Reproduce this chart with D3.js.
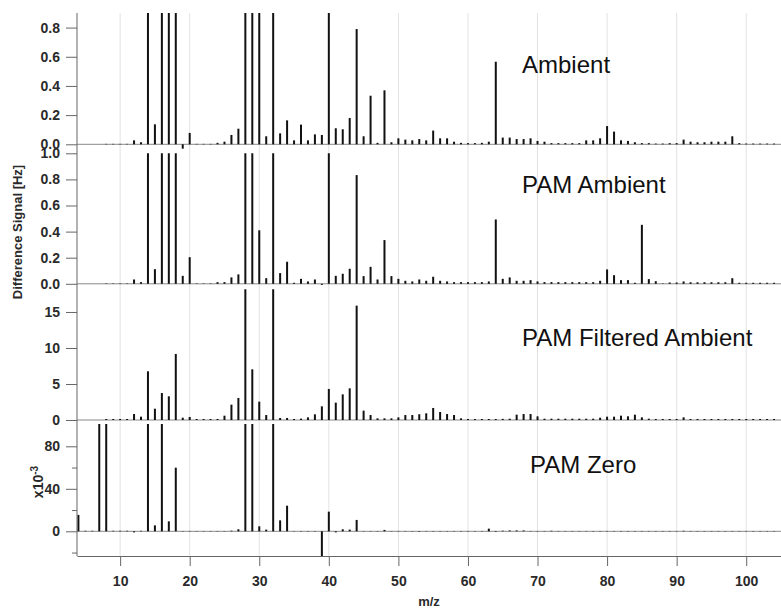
<!DOCTYPE html>
<html>
<head>
<meta charset="utf-8">
<script src="https://cdn.jsdelivr.net/npm/d3@7"></script>
<style>
  html, body { margin: 0; padding: 0; background: #fff; }
  svg { display: block; }
  text { font-family: "Liberation Sans", Arial, sans-serif; }
</style>
</head>
<body>
<svg id="chart" width="781" height="610"></svg>
<script>
// m/z of the first entry in every series; one entry per integer mass
const firstMass = 4;
const lastMass = 104;

// Difference signal [Hz], m/z 4..104 (null = no data)
const ambient = [
  null, null, null, null,
  0.003, 0.003, 0.003, 0.003, 0.027, 0.014,
  2.1, 0.137, 3.4, 1.2, 4.6, -0.03, 0.078,
  0.003, 0.003, 0.003, 0.010, 0.018, 0.064, 0.107,
  24, 1.6, 1.0, 0.055, 5.8, 0.075, 0.164,
  0.027, 0.135, 0.027, 0.068, 0.064, 1.3, 0.110,
  0.103, 0.180, 0.790, 0.055, 0.333, 0.010, 0.370,
  0.014, 0.041, 0.032, 0.027, 0.036, 0.027, 0.094,
  0.041, 0.041, 0.018, 0.010, 0.008, 0.008, 0.010,
  0.018, 0.566, 0.046, 0.046, 0.036, 0.036, 0.041,
  0.023, 0.018, 0.008, 0.008, 0.008, 0.008, 0.008,
  0.027, 0.027, 0.041, 0.125, 0.087, 0.027, 0.023,
  0.014, 0.008, 0.008, 0.005, 0.005, 0.008, 0.008,
  0.032, 0.018, 0.014, 0.014, 0.018, 0.018, 0.018,
  0.055, 0.008, 0.005, 0.005, 0.005, 0.005, 0.005
];

const pamAmbient = [
  null, null, null, null,
  0.003, 0.003, 0.003, 0.003, 0.033, 0.013,
  1.9, 0.112, 3.1, 1.1, 4.2, 0.061, 0.204,
  0.003, 0.003, 0.003, 0.013, 0.013, 0.049, 0.072,
  20, 1.4, 0.41, 0.043, 5.1, 0.082, 0.169,
  0.008, 0.038, 0.018, 0.033, -0.008, 1.2, 0.061,
  0.077, 0.115, 0.833, 0.059, 0.130, 0.033, 0.335,
  0.059, 0.038, 0.023, 0.018, 0.033, 0.023, 0.054,
  0.023, 0.018, 0.013, 0.013, 0.013, 0.013, 0.013,
  0.018, 0.493, 0.038, 0.049, 0.023, 0.023, 0.028,
  0.018, 0.013, 0.013, 0.013, 0.013, 0.013, 0.013,
  0.013, 0.013, 0.023, 0.110, 0.066, 0.028, 0.028,
  0.008, 0.452, 0.036, 0.020, 0.003, 0.010, 0.010,
  0.018, 0.012, 0.012, 0.012, 0.012, 0.012, 0.012,
  0.043, 0.008, 0.008, 0.008, 0.008, 0.008, 0.008
];

const pamFiltered = [
  null, null, null, null,
  0.14, 0.14, 0.14, 0.14, 0.83, 0.46,
  6.76, 1.57, 3.75, 3.29, 9.17, 0.32, 0.42,
  0.14, 0.14, 0.14, 0.14, 0.60, 2.13, 3.06,
  24.5, 7.04, 2.55, 0.69, 21.0, 0.28, 0.28,
  0.14, 0.19, 0.37, 0.79, 1.90, 4.31, 2.41,
  3.56, 4.40, 15.88, 1.30, 0.69, 0.23, 0.23,
  0.23, 0.37, 0.69, 0.69, 0.80, 0.93, 1.67,
  1.11, 0.83, 0.69, 0.23, 0.14, 0.14, 0.14,
  0.14, 0.14, 0.16, 0.18, 0.74, 0.83, 0.83,
  0.51, 0.18, 0.18, 0.18, 0.18, 0.18, 0.18,
  0.18, 0.18, 0.32, 0.46, 0.46, 0.60, 0.51,
  0.74, 0.37, 0.18, 0.14, 0.14, 0.14, 0.14,
  0.37, 0.14, 0.14, 0.14, 0.14, 0.14, 0.14,
  0.14, 0.14, 0.14, 0.14, 0.14, 0.14, 0.14
];

const pamZero = [
  0.0154, 0.0005, 0.0005, 0.13,
  0.125, 0.0005, 0.0005, 0.0005, -0.001, 0.0005,
  0.16, 0.0056, 0.21, 0.0094, 0.0599, 0.0003, 0.0003,
  0.0003, 0.0003, 0.0003, 0.0003, 0.0003, 0.0006, 0.0019,
  0.30, 0.14, 0.0047, 0.0016, 0.18, 0.0103, 0.0241,
  0.0003, 0.0003, 0.0003, 0.0003, -0.024, 0.0185, -0.001,
  0.0019, 0.0016, 0.0107, 0.0003, 0.0003, 0.0003, 0.0013,
  0.0003, 0.0003, 0.0003, -0.0003, -0.0005, 0.0003, 0.0003,
  -0.0003, -0.0003, 0.0003, 0.0003, 0.0003, 0.0003, 0.0003,
  0.0025, -0.0006, 0.0006, 0.0008, 0.0008, 0.0008, 0.0003,
  -0.0003, 0.0003, 0.0005, 0.0003, 0.0003, 0.0003, 0.0003,
  0.0003, -0.0003, 0.0003, 0.0003, 0.0003, 0.0003, 0.0003,
  0.0003, 0.0003, 0.0003, 0.0003, 0.0003, 0.0003, -0.0003,
  0.0005, 0.0003, -0.0003, 0.0003, 0.0003, 0.0003, -0.0003,
  0.0003, 0.0003, 0.0003, 0.0003, 0.0003, 0.0003, 0.0003
];

const panelTitles = ["Ambient", "PAM Ambient", "PAM Filtered Ambient", "PAM Zero"];
const xTicks = [10, 20, 30, 40, 50, 60, 70, 80, 90, 100];
const xDomain = [3.8, 105];

// ---- layout ----
const svg = d3.select("#chart");
const plotLeft = 77, plotRight = 781;
const axisBottomY = 556;

const x = d3.scaleLinear().domain(xDomain).range([plotLeft, plotRight]);

// each stacked panel: pixel top/bottom, pixel row of zero, top value
const panels = [
  { data: ambient,     top: 13,    bottom: 150, zero: 144.3, hi: 0.9,
    ticks: [0, 0.2, 0.4, 0.6, 0.8], minor: [], fmt: d3.format(".1f"),
    title: { x: 522, y: 73 } },
  { data: pamAmbient,  top: 153.3, bottom: 288, zero: 283.8, hi: 1.0,
    ticks: [0, 0.2, 0.4, 0.6, 0.8, 1.0], minor: [], fmt: d3.format(".1f"),
    title: { x: 522, y: 193 } },
  { data: pamFiltered, top: 289.3, bottom: 424, zero: 420,   hi: 18.15,
    ticks: [0, 5, 10, 15], minor: [], fmt: d3.format("d"),
    title: { x: 522, y: 346 } },
  { data: pamZero,     top: 424,   bottom: 556, zero: 531.3, hi: 0.101,
    ticks: [0, 0.04, 0.08], minor: [-0.02, 0.02, 0.06], fmt: d => d3.format("d")(Math.round(d * 1000)),
    title: { x: 530, y: 473 } }
];

// vertical grid lines
svg.append("g")
  .selectAll("line")
  .data(xTicks)
  .join("line")
  .attr("x1", d => x(d)).attr("x2", d => x(d))
  .attr("y1", 13).attr("y2", axisBottomY)
  .attr("stroke", "#e2e2e2")
  .attr("stroke-width", 1);

const defs = svg.append("defs");

panels.forEach((p, i) => {
  const y = d3.scaleLinear().domain([0, p.hi]).range([p.zero, p.top]);

  const clipId = "clip" + i;
  defs.append("clipPath").attr("id", clipId)
    .append("rect")
    .attr("x", plotLeft).attr("y", p.top)
    .attr("width", plotRight - plotLeft).attr("height", p.bottom - p.top);

  const g = svg.append("g").attr("clip-path", `url(#${clipId})`);

  // zero line
  g.append("line")
    .attr("x1", plotLeft).attr("x2", plotRight)
    .attr("y1", y(0)).attr("y2", y(0))
    .attr("stroke", "#8a8a8a").attr("stroke-width", 1);

  const pts = p.data
    .map((v, k) => ({ m: firstMass + k, v }))
    .filter(d => d.v !== null && d.m <= lastMass);

  g.selectAll("rect.bar")
    .data(pts)
    .join("rect")
    .attr("class", "bar")
    .attr("x", d => x(d.m) - 1)
    .attr("width", 2)
    .attr("y", d => Math.min(y(0), y(d.v)))
    .attr("height", d => Math.abs(y(d.v) - y(0)))
    .attr("fill", "#111");

  // left axis (major)
  const ax = svg.append("g")
    .attr("transform", `translate(${plotLeft},0)`)
    .call(d3.axisLeft(y).tickValues(p.ticks).tickSize(11).tickPadding(6).tickFormat(p.fmt));
  ax.select(".domain").remove();
  ax.selectAll(".tick line").attr("stroke", "#666");
  ax.selectAll(".tick text")
    .attr("fill", "#2a2a2a")
    .style("font-size", "14px")
    .style("font-weight", "bold");

  // minor ticks
  if (p.minor.length) {
    const mx = svg.append("g")
      .attr("transform", `translate(${plotLeft},0)`)
      .call(d3.axisLeft(y).tickValues(p.minor).tickSize(5).tickFormat(""));
    mx.select(".domain").remove();
    mx.selectAll(".tick line").attr("stroke", "#666");
  }

  // panel title
  svg.append("text")
    .attr("x", p.title.x).attr("y", p.title.y)
    .attr("fill", "#111")
    .style("font-size", "24px")
    .text(panelTitles[i]);
});

// continuous left spine
svg.append("line")
  .attr("x1", plotLeft).attr("x2", plotLeft)
  .attr("y1", 13).attr("y2", axisBottomY)
  .attr("stroke", "#666").attr("stroke-width", 1);

// bottom axis
const xa = svg.append("g")
  .attr("transform", `translate(0,${axisBottomY})`)
  .call(d3.axisBottom(x).tickValues(xTicks).tickSize(10).tickPadding(10).tickSizeOuter(0));
xa.select(".domain").attr("stroke", "#666");
xa.selectAll(".tick line").attr("stroke", "#666");
xa.selectAll(".tick text")
  .attr("fill", "#2a2a2a")
  .style("font-size", "14px")
  .style("font-weight", "bold");

// axis titles
svg.append("text")
  .attr("transform", "translate(22,232) rotate(-90)")
  .attr("text-anchor", "middle")
  .attr("fill", "#2a2a2a")
  .style("font-size", "13px")
  .style("font-weight", "bold")
  .text("Difference Signal [Hz]");

const sc = svg.append("text")
  .attr("transform", "translate(43,482) rotate(-90)")
  .attr("text-anchor", "middle")
  .attr("fill", "#2a2a2a")
  .style("font-size", "14px")
  .style("font-weight", "bold");
sc.append("tspan").text("x10");
sc.append("tspan").attr("dy", "-0.5em").style("font-size", "10px").text("-3");

svg.append("text")
  .attr("x", (plotLeft + plotRight) / 2).attr("y", 606)
  .attr("text-anchor", "middle")
  .attr("fill", "#2a2a2a")
  .style("font-size", "13px")
  .style("font-weight", "bold")
  .text("m/z");
</script>
</body>
</html>
